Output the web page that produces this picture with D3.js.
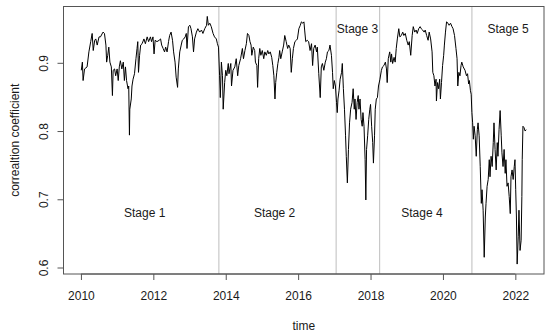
<!DOCTYPE html>
<html>
<head>
<meta charset="utf-8">
<script src="https://cdn.jsdelivr.net/npm/d3@7"></script>
<style>
  body { margin: 0; background: #fff; }
  svg { font-family: "Liberation Sans", Arial, sans-serif; }
</style>
</head>
<body>
<div id="chart"></div>
<script>
// decimal year of each observation
const years = [
  2010.01, 2010.04, 2010.06, 2010.10, 2010.17, 2010.22, 2010.27, 2010.31, 2010.34, 2010.38,
  2010.41, 2010.45, 2010.50, 2010.54, 2010.61, 2010.65, 2010.69, 2010.71, 2010.74, 2010.77,
  2010.80, 2010.84, 2010.87, 2010.89, 2010.93, 2010.96, 2011.00, 2011.03, 2011.06, 2011.09,
  2011.13, 2011.17, 2011.20, 2011.23, 2011.26, 2011.30, 2011.32, 2011.34, 2011.35, 2011.39,
  2011.41, 2011.44, 2011.48, 2011.52, 2011.55, 2011.57, 2011.59, 2011.62, 2011.65, 2011.69,
  2011.74, 2011.78, 2011.83, 2011.87, 2011.92, 2011.95, 2011.99, 2012.02, 2012.05, 2012.10,
  2012.16, 2012.20, 2012.23, 2012.27, 2012.31, 2012.34, 2012.38, 2012.42, 2012.45, 2012.49,
  2012.53, 2012.56, 2012.60, 2012.63, 2012.67, 2012.69, 2012.73, 2012.77, 2012.80, 2012.84,
  2012.88, 2012.91, 2012.93, 2012.97, 2013.01, 2013.04, 2013.08, 2013.11, 2013.14, 2013.19,
  2013.23, 2013.28, 2013.33, 2013.37, 2013.42, 2013.47, 2013.49, 2013.52, 2013.56, 2013.60,
  2013.65, 2013.69, 2013.74, 2013.77, 2013.80, 2013.83, 2013.85, 2013.88, 2013.91, 2013.93,
  2013.97, 2014.00, 2014.03, 2014.07, 2014.09, 2014.14, 2014.16, 2014.20, 2014.25, 2014.29,
  2014.33, 2014.36, 2014.41, 2014.46, 2014.49, 2014.53, 2014.57, 2014.60, 2014.64, 2014.67,
  2014.70, 2014.72, 2014.76, 2014.80, 2014.82, 2014.86, 2014.88, 2014.91, 2014.94, 2014.97,
  2015.01, 2015.05, 2015.08, 2015.12, 2015.16, 2015.19, 2015.23, 2015.27, 2015.30, 2015.33,
  2015.36, 2015.38, 2015.41, 2015.44, 2015.47, 2015.49, 2015.52, 2015.56, 2015.60, 2015.63,
  2015.67, 2015.71, 2015.74, 2015.78, 2015.81, 2015.84, 2015.87, 2015.91, 2015.95, 2015.98,
  2016.02, 2016.06, 2016.09, 2016.13, 2016.16, 2016.18, 2016.21, 2016.25, 2016.29, 2016.33,
  2016.37, 2016.40, 2016.43, 2016.47, 2016.51, 2016.53, 2016.57, 2016.61, 2016.64, 2016.67,
  2016.71, 2016.75, 2016.78, 2016.81, 2016.85, 2016.88, 2016.92, 2016.95, 2016.97, 2017.00,
  2017.03, 2017.06, 2017.08, 2017.10, 2017.13, 2017.16, 2017.20, 2017.22, 2017.25, 2017.28,
  2017.31, 2017.33, 2017.36, 2017.39, 2017.42, 2017.45, 2017.49, 2017.52, 2017.55, 2017.57,
  2017.60, 2017.63, 2017.66, 2017.68, 2017.71, 2017.74, 2017.77, 2017.79, 2017.82, 2017.85,
  2017.87, 2017.89, 2017.92, 2017.95, 2017.98, 2018.00, 2018.03, 2018.06, 2018.08, 2018.11,
  2018.13, 2018.16, 2018.19, 2018.22, 2018.26, 2018.30, 2018.33, 2018.37, 2018.41, 2018.44,
  2018.46, 2018.49, 2018.53, 2018.56, 2018.58, 2018.61, 2018.65, 2018.68, 2018.71, 2018.74,
  2018.78, 2018.81, 2018.85, 2018.89, 2018.92, 2018.96, 2019.00, 2019.04, 2019.07, 2019.11,
  2019.15, 2019.18, 2019.22, 2019.26, 2019.29, 2019.33, 2019.37, 2019.40, 2019.44, 2019.48,
  2019.51, 2019.55, 2019.59, 2019.62, 2019.66, 2019.70, 2019.72, 2019.75, 2019.78, 2019.81,
  2019.82, 2019.85, 2019.88, 2019.91, 2019.93, 2019.96, 2019.99, 2020.02, 2020.04, 2020.07,
  2020.10, 2020.14, 2020.17, 2020.21, 2020.25, 2020.28, 2020.32, 2020.36, 2020.39, 2020.41,
  2020.44, 2020.47, 2020.50, 2020.52, 2020.56, 2020.61, 2020.65, 2020.68, 2020.71, 2020.73,
  2020.76, 2020.78, 2020.80, 2020.82, 2020.84, 2020.86, 2020.89, 2020.92, 2020.95, 2020.97,
  2021.00, 2021.03, 2021.06, 2021.08, 2021.11, 2021.14, 2021.17, 2021.19, 2021.22, 2021.25,
  2021.28, 2021.30, 2021.33, 2021.36, 2021.39, 2021.41, 2021.44, 2021.47, 2021.50, 2021.52,
  2021.55, 2021.58, 2021.61, 2021.63, 2021.66, 2021.69, 2021.72, 2021.74, 2021.77, 2021.80,
  2021.83, 2021.86, 2021.88, 2021.91, 2021.94, 2021.97, 2021.99, 2022.01, 2022.03, 2022.05,
  2022.08, 2022.10, 2022.13, 2022.16, 2022.18, 2022.19, 2022.21, 2022.24, 2022.27, 2022.30
];

// correlation coefficient
const corr = [
  0.889, 0.901, 0.874, 0.891, 0.894, 0.916, 0.931, 0.943, 0.918, 0.933,
  0.935, 0.926, 0.938, 0.938, 0.945, 0.943, 0.926, 0.901, 0.911, 0.923,
  0.901, 0.894, 0.852, 0.889, 0.891, 0.881, 0.891, 0.874, 0.894, 0.903,
  0.891, 0.901, 0.874, 0.894, 0.874, 0.862, 0.866, 0.794, 0.832, 0.847,
  0.866, 0.876, 0.884, 0.906, 0.921, 0.931, 0.886, 0.911, 0.926, 0.928,
  0.935, 0.928, 0.938, 0.931, 0.938, 0.931, 0.938, 0.913, 0.933, 0.931,
  0.933, 0.935, 0.926, 0.921, 0.916, 0.923, 0.916, 0.931, 0.940, 0.945,
  0.933, 0.916, 0.901, 0.879, 0.864, 0.891, 0.916, 0.926, 0.933, 0.935,
  0.938, 0.943, 0.921, 0.953, 0.955, 0.950, 0.938, 0.916, 0.935, 0.945,
  0.950, 0.945, 0.948, 0.943, 0.950, 0.955, 0.968, 0.955, 0.958, 0.953,
  0.943, 0.938, 0.935, 0.928, 0.923, 0.881, 0.849, 0.901, 0.881, 0.832,
  0.871, 0.889, 0.881, 0.899, 0.884, 0.899, 0.866, 0.889, 0.894, 0.906,
  0.881, 0.896, 0.906, 0.921, 0.906, 0.918, 0.928, 0.943, 0.940, 0.931,
  0.926, 0.911, 0.923, 0.918, 0.901, 0.896, 0.864, 0.906, 0.921, 0.911,
  0.918, 0.906, 0.916, 0.911, 0.918, 0.913, 0.916, 0.908, 0.896, 0.881,
  0.847, 0.871, 0.886, 0.899, 0.908, 0.918, 0.906, 0.916, 0.926, 0.940,
  0.931, 0.921, 0.926, 0.921, 0.886, 0.906, 0.921, 0.931, 0.933, 0.935,
  0.950, 0.955, 0.960, 0.958, 0.960, 0.948, 0.931, 0.933, 0.931, 0.918,
  0.928, 0.896, 0.921, 0.926, 0.916, 0.923, 0.884, 0.849, 0.894, 0.899,
  0.889, 0.901, 0.906, 0.916, 0.918, 0.926, 0.911, 0.886, 0.862, 0.874,
  0.866, 0.842, 0.827, 0.847, 0.859, 0.876, 0.886, 0.899, 0.862, 0.832,
  0.793, 0.763, 0.724, 0.773, 0.812, 0.832, 0.842, 0.862, 0.832, 0.847,
  0.817, 0.842, 0.852, 0.832, 0.847, 0.817, 0.807, 0.827, 0.807, 0.758,
  0.699, 0.773, 0.793, 0.817, 0.832, 0.839, 0.807, 0.783, 0.753, 0.793,
  0.832, 0.847, 0.849, 0.866, 0.876, 0.889, 0.894, 0.896, 0.901, 0.891,
  0.871, 0.906, 0.916, 0.901, 0.913, 0.899, 0.908, 0.901, 0.921, 0.935,
  0.950, 0.938, 0.940, 0.945, 0.940, 0.943, 0.933, 0.926, 0.931, 0.911,
  0.940, 0.953, 0.945, 0.948, 0.943, 0.950, 0.953, 0.950, 0.948, 0.945,
  0.948, 0.940, 0.933, 0.945, 0.935, 0.916, 0.886, 0.881, 0.866, 0.876,
  0.844, 0.871, 0.862, 0.876, 0.847, 0.871, 0.896, 0.911, 0.926, 0.945,
  0.960, 0.958, 0.955, 0.958, 0.953, 0.950, 0.940, 0.921, 0.906, 0.866,
  0.886, 0.881, 0.896, 0.901, 0.894, 0.889, 0.881, 0.884, 0.869, 0.874,
  0.859, 0.854, 0.827, 0.812, 0.788, 0.807, 0.793, 0.763, 0.802, 0.812,
  0.793, 0.748, 0.694, 0.714, 0.684, 0.615, 0.674, 0.694, 0.719, 0.729,
  0.758, 0.733, 0.763, 0.748, 0.783, 0.812, 0.773, 0.743, 0.783, 0.763,
  0.802, 0.830, 0.793, 0.768, 0.748, 0.773, 0.738, 0.758, 0.719, 0.724,
  0.704, 0.679, 0.733, 0.743, 0.729, 0.748, 0.758, 0.714, 0.674, 0.605,
  0.645, 0.684, 0.625, 0.640, 0.704, 0.758, 0.807, 0.805, 0.800, 0.802
];

// stage boundaries (years) and labels
const stageBreaks = [2013.81, 2017.05, 2018.25, 2020.80];
const stageNames = ["Stage 1", "Stage 2", "Stage 3", "Stage 4", "Stage 5"];
const stageLabelX = [2011.76, 2015.35, 2017.64, 2019.42, 2021.80];
const stageLabelY = [0.68, 0.68, 0.95, 0.68, 0.95];

const xTicks = [2010, 2012, 2014, 2016, 2018, 2020, 2022];
const yTicks = [0.6, 0.7, 0.8, 0.9];

const series = years.map((t, i) => ({ t: t, v: corr[i] }));

const W = 550, H = 336;
const margin = { top: 6.5, right: 6, bottom: 62, left: 63.5 };
const width = W - margin.left - margin.right;
const height = H - margin.top - margin.bottom;

// R-style axis range: data range padded by 4% on each side
function padded(ext) {
  const d = (ext[1] - ext[0]) * 0.04;
  return [ext[0] - d, ext[1] + d];
}

const x = d3.scaleLinear().domain(padded(d3.extent(years))).range([0, width]);
const y = d3.scaleLinear().domain(padded(d3.extent(corr))).range([height, 0]);

const svg = d3
  .select("#chart")
  .append("svg")
  .attr("width", W)
  .attr("height", H)
  .append("g")
  .attr("transform", `translate(${margin.left},${margin.top})`);

// stage separators
svg
  .append("g")
  .selectAll("line")
  .data(stageBreaks)
  .enter()
  .append("line")
  .attr("x1", (d) => x(d))
  .attr("x2", (d) => x(d))
  .attr("y1", 0)
  .attr("y2", height)
  .attr("stroke", "#c8c8c8")
  .attr("stroke-width", 1.2);

// the series
const line = d3
  .line()
  .x((d) => x(d.t))
  .y((d) => y(d.v));

svg
  .append("path")
  .datum(series)
  .attr("fill", "none")
  .attr("stroke", "#000")
  .attr("stroke-width", 1)
  .attr("stroke-linejoin", "miter")
  .attr("d", line);

// stage labels
svg
  .append("g")
  .selectAll("text")
  .data(stageNames)
  .enter()
  .append("text")
  .attr("x", (d, i) => x(stageLabelX[i]))
  .attr("y", (d, i) => y(stageLabelY[i]))
  .attr("dy", "0.36em")
  .attr("text-anchor", "middle")
  .attr("font-size", 12)
  .attr("fill", "#1a1a1a")
  .text((d) => d);

// plot box
svg
  .append("rect")
  .attr("x", 0)
  .attr("y", 0)
  .attr("width", width)
  .attr("height", height)
  .attr("fill", "none")
  .attr("stroke", "#555")
  .attr("stroke-width", 1);

// bottom axis
const xAxis = d3.axisBottom(x).tickValues(xTicks).tickFormat(d3.format("d")).tickSize(6).tickSizeOuter(0).tickPadding(11);
const gx = svg.append("g").attr("transform", `translate(0,${height})`).call(xAxis);
gx.select(".domain").attr("stroke", "#555").attr("d", `M${x(xTicks[0])},0H${x(xTicks[xTicks.length - 1])}`);
gx.selectAll(".tick line").attr("stroke", "#555");
gx.selectAll(".tick text").attr("font-size", 12).attr("fill", "#1a1a1a").attr("font-family", "Liberation Sans, Arial, sans-serif");

// left axis, labels parallel to the axis as in base R
const yAxis = d3.axisLeft(y).tickValues(yTicks).tickFormat(d3.format(".1f")).tickSize(6).tickSizeOuter(0);
const gy = svg.append("g").call(yAxis);
gy.select(".domain").attr("stroke", "#555").attr("d", `M0,${y(yTicks[0])}V${y(yTicks[yTicks.length - 1])}`);
gy.selectAll(".tick line").attr("stroke", "#555");
gy.selectAll(".tick text")
  .attr("x", null)
  .attr("dy", null)
  .attr("transform", "translate(-16,0) rotate(-90)")
  .attr("text-anchor", "middle")
  .attr("font-size", 12)
  .attr("fill", "#1a1a1a")
  .attr("font-family", "Liberation Sans, Arial, sans-serif");

// axis titles
svg
  .append("text")
  .attr("x", width / 2)
  .attr("y", height + 56)
  .attr("text-anchor", "middle")
  .attr("font-size", 12)
  .attr("fill", "#1a1a1a")
  .text("time");

svg
  .append("text")
  .attr("transform", `translate(${-45},${height / 2}) rotate(-90)`)
  .attr("text-anchor", "middle")
  .attr("font-size", 12)
  .attr("fill", "#1a1a1a")
  .text("correaltion coefficient");
</script>
</body>
</html>
